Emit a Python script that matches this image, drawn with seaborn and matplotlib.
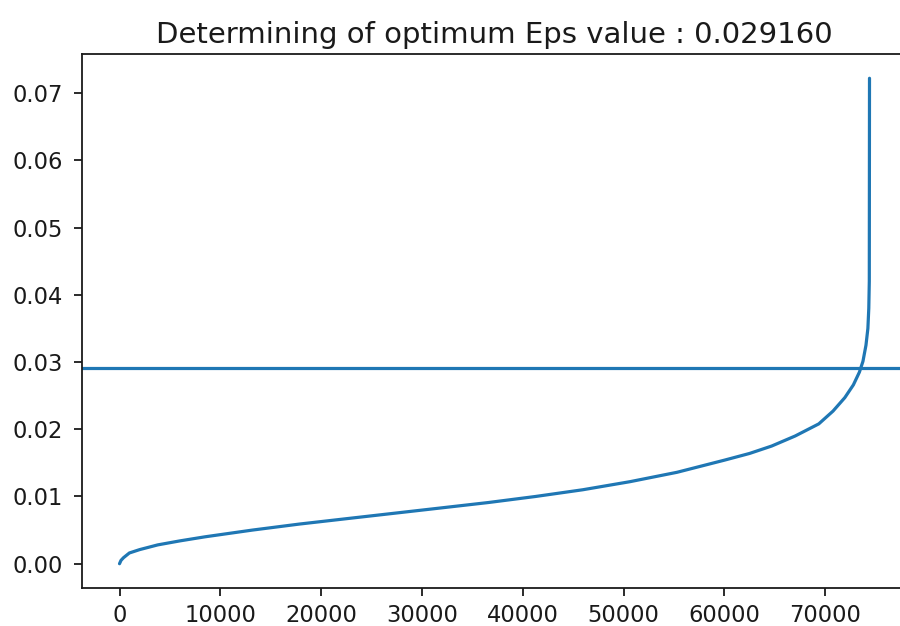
import matplotlib
matplotlib.use("Agg")
import matplotlib.pyplot as plt
import seaborn as sns
import pandas as pd

# Points
point_index = [0, 150, 400, 980, 2000, 3790, 6000, 8470, 13160, 17850, 22520,
               27210, 31900, 36580, 41260, 45950, 50630, 55310, 60000, 62500,
               64690, 67030, 69370, 70780, 71950, 72800, 73400, 73750, 74050,
               74240, 74330, 74380, 74400]
k_distance = [0.0, 0.0005, 0.0009, 0.0016, 0.0021, 0.0028, 0.0034, 0.0040,
              0.0050, 0.0059, 0.0067, 0.0075, 0.0083, 0.0091, 0.0100, 0.0110,
              0.0122, 0.0136, 0.0154, 0.0164, 0.0175, 0.0190, 0.0208, 0.0227,
              0.0247, 0.0266, 0.0285, 0.0301, 0.0325, 0.0350, 0.0380, 0.0420,
              0.0722]
eps_value = 0.029160
title_text = "Determining of optimum Eps value : %f" % eps_value

df = pd.DataFrame({"idx": point_index, "dist": k_distance})

sns.set_style("ticks")
plt.rcParams['font.family'] = ['DejaVu Sans']

fig = plt.figure(figsize=(9.0, 6.26), dpi=100)
ax = fig.add_axes([82 / 900, 38 / 626, 825 / 900, 534 / 626])

blue = "#1f77b4"
sns.lineplot(data=df, x="idx", y="dist", ax=ax, color=blue, linewidth=2.3,
             estimator=None, sort=False)
ax.axhline(eps_value, color=blue, linewidth=2.3)

ax.set_xlim(-3720, 78120)
ax.set_ylim(-0.00361, 0.07581)
ax.set_xticks([0, 10000, 20000, 30000, 40000, 50000, 60000, 70000])
ax.set_yticks([0.0, 0.01, 0.02, 0.03, 0.04, 0.05, 0.06, 0.07])
ax.set_yticklabels(["0.00", "0.01", "0.02", "0.03", "0.04", "0.05", "0.06", "0.07"])
ax.set_xlabel("")
ax.set_ylabel("")
ax.set_title(title_text, fontsize=21, pad=8, color="#1a1a1a")

for s in ax.spines.values():
    s.set_linewidth(1.3)
    s.set_color("#1a1a1a")
ax.tick_params(axis="both", labelsize=16.3, length=5.8, width=1.3,
               colors="#1a1a1a")
ax.tick_params(axis="y", pad=8)
ax.tick_params(axis="x", pad=6)

fig.savefig("out.png", dpi=100)
